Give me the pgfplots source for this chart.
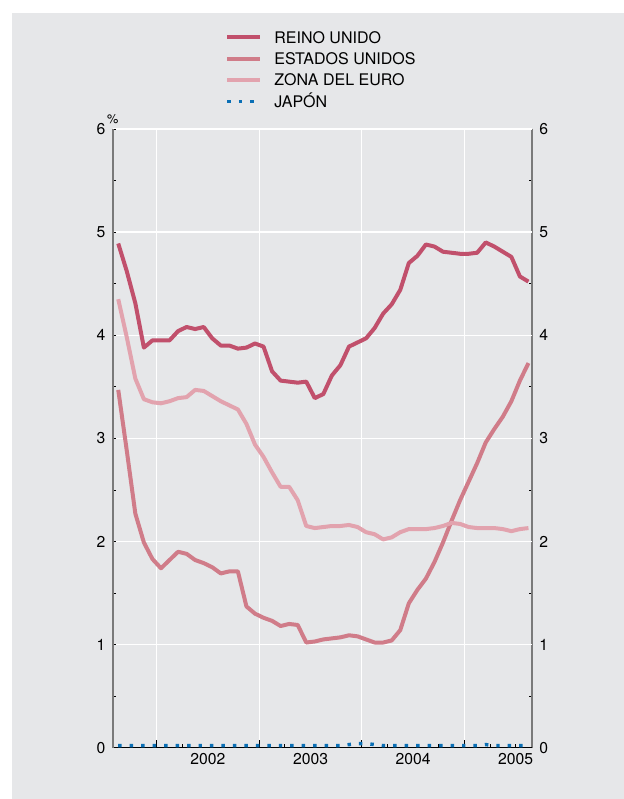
\documentclass[border=0pt]{standalone}
\usepackage{fontspec}
\setmainfont{TeX Gyre Heros}
\usepackage{pgfplots}
\usepackage{pgfplotstable}
\pgfplotsset{compat=1.18}
\definecolor{bg}{HTML}{E6E7E9}
\definecolor{uk}{HTML}{C1506C}
\definecolor{us}{HTML}{D07C89}
\definecolor{eu}{HTML}{E2A3AE}
\definecolor{jp}{HTML}{0A6FB5}
\definecolor{axgray}{HTML}{7A7A7A}

\pgfplotstableread{
i uk us eu jp
0 4.89 3.47 4.35 0.02
1 4.62 2.88 3.98 0.02
2 4.31 2.27 3.58 0.02
3 3.88 1.99 3.38 0.02
4 3.95 1.83 3.35 0.02
5 3.95 1.74 3.34 0.02
6 3.95 1.82 3.36 0.02
7 4.04 1.90 3.39 0.02
8 4.08 1.88 3.40 0.02
9 4.06 1.82 3.47 0.02
10 4.08 1.79 3.46 0.02
11 3.97 1.75 3.41 0.02
12 3.90 1.69 3.36 0.02
13 3.90 1.71 3.32 0.02
14 3.87 1.71 3.28 0.02
15 3.88 1.37 3.14 0.02
16 3.92 1.30 2.94 0.02
17 3.89 1.26 2.82 0.02
18 3.65 1.23 2.67 0.02
19 3.56 1.18 2.53 0.02
20 3.55 1.20 2.53 0.02
21 3.54 1.19 2.40 0.02
22 3.55 1.02 2.15 0.02
23 3.39 1.03 2.13 0.02
24 3.43 1.05 2.14 0.02
25 3.61 1.06 2.15 0.02
26 3.71 1.07 2.15 0.02
27 3.89 1.09 2.16 0.03
28 3.93 1.08 2.14 0.04
29 3.97 1.05 2.09 0.04
30 4.07 1.02 2.07 0.03
31 4.21 1.02 2.02 0.02
32 4.30 1.04 2.04 0.02
33 4.44 1.14 2.09 0.02
34 4.70 1.40 2.12 0.02
35 4.77 1.53 2.12 0.02
36 4.88 1.64 2.12 0.02
37 4.86 1.80 2.13 0.02
38 4.81 1.99 2.15 0.02
39 4.80 2.20 2.18 0.02
40 4.79 2.40 2.17 0.02
41 4.79 2.58 2.14 0.02
42 4.80 2.76 2.13 0.02
43 4.90 2.96 2.13 0.03
44 4.86 3.09 2.13 0.02
45 4.81 3.21 2.12 0.02
46 4.76 3.36 2.10 0.02
47 4.57 3.56 2.12 0.02
48 4.52 3.73 2.13 0.02
}\data

\begin{document}
\begin{tikzpicture}[x=0.75pt,y=0.75pt]
\path (0,0) rectangle (624,799);
\fill[bg] (12,0) rectangle (624,786);
% right axis (labels on the right)
\begin{axis}[
  at={(84.53pt,38.48pt)}, anchor=south west, scale only axis,
  width=314.5pt, height=464pt,
  xmin=-0.648, xmax=48.42, ymin=0, ymax=6,
  hide x axis,
  axis y line*=right,
  y axis line style={axgray, line width=1.3pt},
  ytick={0,1,...,6}, minor y tick num=1,
  tick align=inside, major tick length=2.5pt, minor tick length=2.5pt,
  tick style={black, line width=0.6pt},
  yticklabel pos=right,
  /pgf/number format/assume math mode=true,
  yticklabel style={font=\fontsize{11.8}{13}\selectfont, xshift=2pt},
]
\addplot[draw=none] coordinates {(0,0)};
\node[anchor=south, inner sep=0pt, font=\fontsize{9.5}{10}\selectfont] at (rel axis cs:1,1) [yshift=4pt] {\%};
\end{axis}
% main axis
\begin{axis}[
  at={(84.53pt,38.48pt)}, anchor=south west, scale only axis,
  width=314.5pt, height=464pt,
  xmin=-0.648, xmax=48.42, ymin=0, ymax=6,
  clip=false,
  axis x line*=bottom, axis y line*=left,
  x axis line style={black, line width=1pt},
  y axis line style={axgray, line width=1.3pt},
  tick align=inside, major tick length=2.5pt, minor tick length=2.5pt,
  tick style={black, line width=0.6pt},
  xtick={10.5,22.5,34.5,46.5},
  xticklabels={2002,2003,2004,2005},
  major x tick style={draw=none},
  minor xtick={1.5,7.5,13.5,19.5,25.5,31.5,37.5,43.5,46.5},
  extra x ticks={4.5,16.5,28.5,40.5},
  extra x tick labels={},
  extra x tick style={xmajorgrids=true, major tick length=6pt, major x tick style={draw=black}},
  ytick={0,1,...,6}, minor y tick num=1,
  ymajorgrids,
  major grid style={white, line width=1pt},
  /pgf/number format/assume math mode=true,
  ticklabel style={font=\fontsize{11.8}{13}\selectfont},
  xticklabel style={yshift=-1pt},
  yticklabel style={xshift=-2pt},
  legend style={at={(0.268,1.158)}, anchor=north west, draw=none, fill=none,
    font=\fontsize{12}{14}\selectfont, inner sep=0pt, row sep=7.5pt,
    nodes={inner sep=0pt, text height=8.6pt, text depth=0pt},
    /tikz/every odd column/.append style={column sep=9pt}},
  legend cell align=left,
  legend image code/.code={\draw[#1] (0pt,0pt) -- (24.75pt,0pt);},
  every axis plot/.append style={line join=round},
]
\addplot[uk, line width=3pt] table[x=i,y=uk] {\data};
\addlegendentry{REINO UNIDO}
\addplot[us, line width=3pt] table[x=i,y=us] {\data};
\addlegendentry{ESTADOS UNIDOS}
\addplot[eu, line width=3pt] table[x=i,y=eu] {\data};
\addlegendentry{ZONA DEL EURO}
\addplot[jp, line width=2.6pt, dash pattern=on 2.6pt off 6pt] table[x=i,y=jp] {\data};
\addlegendentry{JAPÓN}
\node[anchor=south, inner sep=0pt, font=\fontsize{9.5}{10}\selectfont] at (rel axis cs:0,1) [yshift=4pt] {\%};
\end{axis}
\end{tikzpicture}
\end{document}
